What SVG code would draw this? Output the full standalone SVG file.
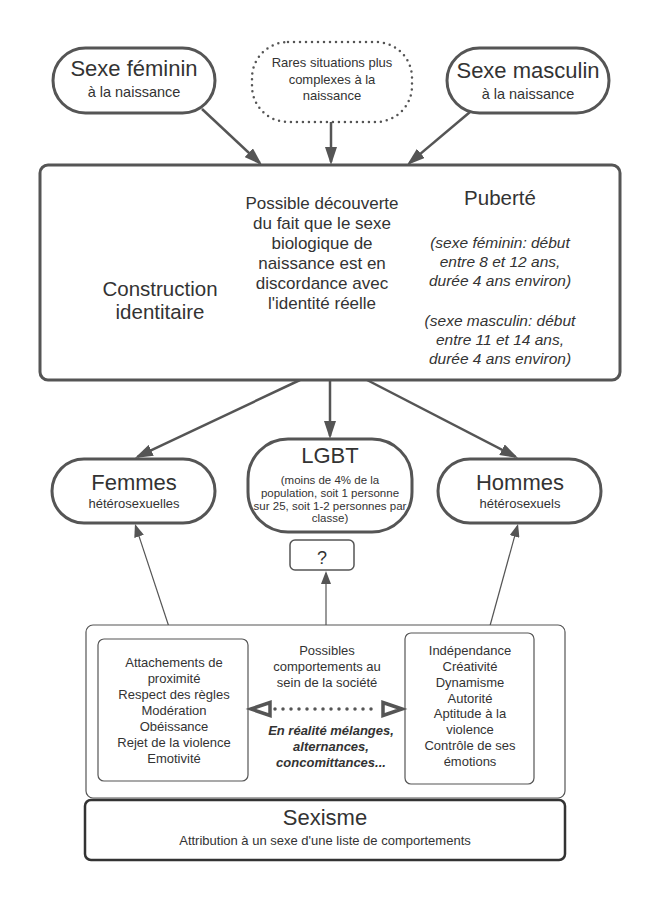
<svg xmlns="http://www.w3.org/2000/svg" width="660" height="900" viewBox="0 0 660 900">
<style>
text{font-family:"Liberation Sans",Arial,sans-serif;fill:#333;text-anchor:middle}
.big{font-size:22px}
.sub{font-size:14.5px}
.s13{font-size:13px}
.pill{fill:#fff;stroke:#555;stroke-width:3}
.thin{fill:#fff;stroke:#555;stroke-width:1.2}
.con{stroke:#555;stroke-width:2.5;fill:none}
.cont{stroke:#555;stroke-width:1.2;fill:none}
.it{font-style:italic;font-size:15.5px}
.bi{font-style:italic;font-weight:bold;font-size:13px}
</style>
<defs>
<marker id="ah" viewBox="0 0 18 12" markerWidth="18" markerHeight="12" refX="15" refY="6" orient="auto" markerUnits="userSpaceOnUse"><path d="M0,0 L18,6 L0,12 z" fill="#555"/></marker>
<marker id="ahs" viewBox="0 0 13 10" markerWidth="13" markerHeight="10" refX="11" refY="5" orient="auto" markerUnits="userSpaceOnUse"><path d="M0,0 L13,5 L0,10 z" fill="#555"/></marker>
</defs>
<rect width="660" height="900" fill="#fff"/>
<g id="connectors">
<line class="con" x1="202" y1="109" x2="259.8" y2="163" marker-end="url(#ah)"/>
<line class="con" x1="331" y1="122" x2="331" y2="162" marker-end="url(#ah)"/>
<line class="con" x1="470" y1="112" x2="409.3" y2="163.1" marker-end="url(#ah)"/>
<line class="con" x1="300" y1="380" x2="137.7" y2="456.7" marker-end="url(#ah)"/>
<line class="con" x1="330" y1="380" x2="330" y2="436" marker-end="url(#ah)"/>
<line class="con" x1="367" y1="380" x2="515.3" y2="456.6" marker-end="url(#ah)"/>
<line class="cont" x1="173" y1="639" x2="135.6" y2="525.9" marker-end="url(#ahs)"/>
<line class="cont" x1="488" y1="633" x2="517.5" y2="525.9" marker-end="url(#ahs)"/>
<line class="cont" x1="326" y1="625" x2="326" y2="573" marker-end="url(#ahs)"/>
</g>
<g id="sexe-feminin">
<rect class="pill" x="53" y="48" width="162" height="65" rx="32.5"/>
<text class="big" x="134" y="76">Sexe féminin</text>
<text class="sub" x="134" y="97">à la naissance</text>
</g>
<g id="rares">
<rect x="252" y="42" width="160" height="80" rx="36" fill="#fff" stroke="#555" stroke-width="2.5" stroke-dasharray="0 6" stroke-linecap="round"/>
<text class="s13" x="332" y="67">Rares situations plus</text>
<text class="s13" x="332" y="84">complexes à la</text>
<text class="s13" x="332" y="100">naissance</text>
</g>
<g id="sexe-masculin">
<rect class="pill" x="447" y="48" width="162" height="65" rx="32.5"/>
<text class="big" x="528" y="78">Sexe masculin</text>
<text class="sub" x="528" y="99">à la naissance</text>
</g>
<g id="construction">
<rect x="40" y="165" width="580" height="215" rx="8" fill="#fff" stroke="#555" stroke-width="3"/>
<text x="160" y="296" style="font-size:20.5px">Construction</text>
<text x="160" y="319" style="font-size:20.5px">identitaire</text>
<g style="font-size:17px">
<text x="322" y="209">Possible découverte</text>
<text x="322" y="229">du fait que le sexe</text>
<text x="322" y="249">biologique de</text>
<text x="322" y="269">naissance est en</text>
<text x="322" y="289">discordance avec</text>
<text x="322" y="309">l'identité réelle</text>
</g>
<text x="500" y="205" style="font-size:20.5px">Puberté</text>
<text class="it" x="500" y="248">(sexe féminin: début</text>
<text class="it" x="500" y="267">entre 8 et 12 ans,</text>
<text class="it" x="500" y="286">durée 4 ans environ)</text>
<text class="it" x="500" y="326">(sexe masculin: début</text>
<text class="it" x="500" y="345">entre 11 et 14 ans,</text>
<text class="it" x="500" y="364">durée 4 ans environ)</text>
</g>
<g id="femmes">
<rect class="pill" x="52" y="459" width="163" height="64" rx="32"/>
<text class="big" x="134" y="490">Femmes</text>
<text class="s13" x="134" y="508">hétérosexuelles</text>
</g>
<g id="lgbt">
<rect class="pill" x="248" y="439" width="164" height="93" rx="40"/>
<text class="big" x="330" y="463">LGBT</text>
<g style="font-size:11.5px">
<text x="330" y="484">(moins de 4% de la</text>
<text x="330" y="497">population, soit 1 personne</text>
<text x="330" y="510">sur 25, soit 1-2 personnes par</text>
<text x="330" y="522">classe)</text>
</g>
</g>
<g id="hommes">
<rect class="pill" x="438" y="459" width="163" height="64" rx="32"/>
<text class="big" x="520" y="490">Hommes</text>
<text class="s13" x="520" y="508">hétérosexuels</text>
</g>
<g id="question">
<rect x="290" y="540" width="64" height="30" rx="5" fill="#fff" stroke="#555" stroke-width="1.5"/>
<text x="322" y="564" style="font-size:18px">?</text>
</g>
<g id="comportements">
<rect class="thin" x="86" y="625" width="479" height="173" rx="7"/>
<text class="s13" x="327" y="655">Possibles</text>
<text class="s13" x="327" y="671">comportements au</text>
<text class="s13" x="327" y="687">sein de la société</text>
<text class="bi" x="331" y="735">En réalité mélanges,</text>
<text class="bi" x="331" y="751">alternances,</text>
<text class="bi" x="331" y="767">concomittances...</text>
</g>
<g id="feminin-liste">
<rect class="thin" x="98" y="639" width="150" height="142" rx="6"/>
<g class="s13">
<text x="174" y="667">Attachements de</text>
<text x="174" y="683">proximité</text>
<text x="174" y="699">Respect des règles</text>
<text x="174" y="715">Modération</text>
<text x="174" y="731">Obéissance</text>
<text x="174" y="747">Rejet de la violence</text>
<text x="174" y="763">Emotivité</text>
</g>
</g>
<g id="masculin-liste">
<rect class="thin" x="405" y="633" width="129" height="151" rx="6"/>
<g class="s13">
<text x="470" y="655">Indépendance</text>
<text x="470" y="671">Créativité</text>
<text x="470" y="687">Dynamisme</text>
<text x="470" y="703">Autorité</text>
<text x="470" y="718">Aptitude à la</text>
<text x="470" y="734">violence</text>
<text x="470" y="750">Contrôle de ses</text>
<text x="470" y="766">émotions</text>
</g>
</g>
<g id="double-arrow">
<line x1="275" y1="709" x2="379" y2="709" stroke="#555" stroke-width="3.5" stroke-dasharray="0 8" stroke-linecap="round"/>
<polygon points="251,709 270,702.5 270,715.5" fill="#fff" stroke="#555" stroke-width="3.5"/>
<polygon points="402,709 383,702.5 383,715.5" fill="#fff" stroke="#555" stroke-width="3.5"/>
</g>
<g id="sexisme">
<rect x="85" y="800" width="480" height="60" rx="6" fill="#fff" stroke="#333" stroke-width="2.5"/>
<text class="big" x="325" y="825">Sexisme</text>
<text class="s13" x="325" y="845">Attribution à un sexe d'une liste de comportements</text>
</g>
</svg>
